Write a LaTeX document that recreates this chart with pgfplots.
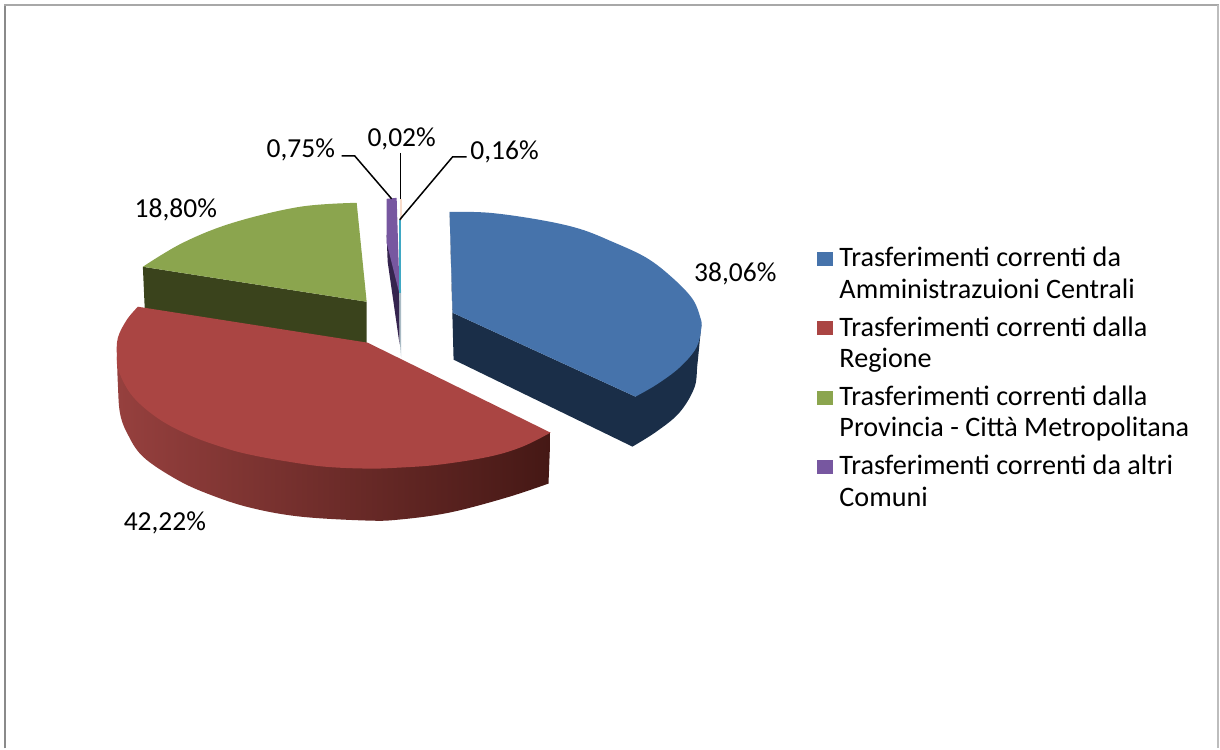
\documentclass[border=0pt]{standalone}
\usepackage{pgfplots}
\pgfplotsset{compat=1.18}
\usepackage{fontspec}
\setmainfont{Carlito}
\definecolor{bluetop}{HTML}{4673AB}
\definecolor{blueside}{HTML}{1A2E48}
\definecolor{redtop}{HTML}{AA4543}
\definecolor{redsideL}{HTML}{96403E}
\definecolor{redsideM}{HTML}{6E2D2B}
\definecolor{redsideR}{HTML}{451815}
\definecolor{greentop}{HTML}{8BA54E}
\definecolor{greenside}{HTML}{3A431C}
\definecolor{purpletop}{HTML}{7757A0}
\definecolor{purpleside}{HTML}{35244E}
\definecolor{tealtop}{HTML}{3FA8C4}
\definecolor{palegrey}{HTML}{A9BBC4}
\definecolor{peach}{HTML}{F8DCCB}
\definecolor{frameA}{HTML}{A8A8A8}
\definecolor{frameB}{HTML}{8A8A8A}
\definecolor{frameC}{HTML}{BDBDBD}
\begin{document}
\begin{tikzpicture}
\begin{axis}[
  width=1220pt,height=749pt,scale only axis,
  xmin=0,xmax=1220,ymin=0,ymax=749,y dir=reverse,
  hide axis,clip=false,
  legend cell align=left,
  legend style={at={(axis cs:818,245)},anchor=north west,draw=none,fill=none,
    font=\fontsize{28.2}{31.5}\selectfont,row sep=0pt,inner sep=0pt,
    nodes={inner sep=0pt,text height=22pt,text depth=47.3pt}},
  legend image code/.code={\path[draw=none,fill=none] (0pt,0pt) rectangle (22pt,14pt);\fill[#1,draw=none] (0pt,13.5pt) rectangle (16pt,27.5pt);},
]
% keeps the page as large as the reference
\addplot[forget plot,draw=none] coordinates {(0,0) (1220,749)};
% frame
\addplot[forget plot,draw=frameB,line width=2.5pt] coordinates {(5,749) (5,5)};
\addplot[forget plot,draw=frameA,line width=2.2pt] coordinates {(4,5) (1220,5)};
\addplot[forget plot,draw=frameC,line width=2pt] coordinates {(1219,5) (1219,749)};
% green side
\addplot[forget plot,fill=greenside,draw=none] coordinates {(143,267) (145,312) (367,346) (367,302)} --cycle;
% blue side
\addplot[forget plot,fill=blueside,draw=none,smooth,tension=0.6] coordinates {(633,447) (657,432) (680,413) (695,388) (698,365) (701,335) (702,325)} -- (axis cs:636,397) -- (axis cs:453,313) -- (axis cs:450,212) -- (axis cs:454,360) --cycle;
% blue top
\addplot[fill=bluetop,draw=none,smooth,tension=0.6] coordinates {(450,212) (490,213) (540,220) (580,229) (613,242) (647,258) (673,278) (693,299) (701,318) (702,328) (697,348) (680,368) (657,385) (636,397)} -- (axis cs:453,313) --cycle;
\addlegendentry{\begin{tabular}[t]{@{}l@{}}Trasferimenti correnti da\\Amministrazuioni Centrali\end{tabular}}
% red side
\addplot[forget plot,draw=none,smooth,tension=0.6,left color=redsideL,middle color=redsideM,right color=redsideR] coordinates {(117,357) (118,385) (120,413) (127,433) (143,457) (177,480) (210,495) (250,508) (300,517) (367,521) (400,520) (450,513) (507,498) (549,484)} -- (axis cs:551,433) --cycle;
% red top
\addplot[fill=redtop,draw=none,smooth,tension=0.6] coordinates {(138,307) (127,320) (118,338) (117,357) (119,372) (133,397) (160,420) (193,437) (227,449) (250,455) (282,461) (324,467) (368,469) (400,468) (440,465) (490,457) (523,447) (551,433)} -- (axis cs:368,343) --cycle;
\addlegendentry{\begin{tabular}[t]{@{}l@{}}Trasferimenti correnti dalla\\Regione\end{tabular}}
% green top
\addplot[fill=greentop,draw=none,smooth,tension=0.6] coordinates {(143,267) (183,243) (233,223) (300,207) (357,203)} -- (axis cs:367,302) --cycle;
\addlegendentry{\begin{tabular}[t]{@{}l@{}}Trasferimenti correnti dalla\\Provincia - Città Metropolitana\end{tabular}}
% thin slices
\addplot[forget plot,fill=purpleside,draw=none] coordinates {(387,235) (388,262) (400,345) (400,290)} --cycle;
\addplot[fill=purpletop,draw=none] coordinates {(387,199) (397,198) (400,295) (387,243)} --cycle;
\addlegendentry{\begin{tabular}[t]{@{}l@{}}Trasferimenti correnti da altri\\Comuni\end{tabular}}
\addplot[forget plot,fill=palegrey,draw=none] coordinates {(399.5,290) (401.5,290) (401.5,358) (400,340)} --cycle;
\addplot[forget plot,fill=tealtop,draw=none] coordinates {(399.5,220) (401.5,220) (401.5,293) (399.5,293)} --cycle;
\addplot[forget plot,fill=peach,draw=none] coordinates {(400,199) (402,199) (402,220) (400,220)} --cycle;
% leaders
\addplot[forget plot,black,line width=1.5pt] coordinates {(342,156) (355,156) (392,199)};
\addplot[forget plot,black,line width=1.5pt] coordinates {(401,153) (401,199)};
\addplot[forget plot,black,line width=1.5pt] coordinates {(467,157) (453,157) (400,220)};
% labels
\node[font=\fontsize{27.5}{30}\selectfont,anchor=center,inner sep=0pt] at (axis cs:301,150) {0,75\%};
\node[font=\fontsize{27.5}{30}\selectfont,anchor=center,inner sep=0pt] at (axis cs:402,139) {0,02\%};
\node[font=\fontsize{27.5}{30}\selectfont,anchor=center,inner sep=0pt] at (axis cs:505,152) {0,16\%};
\node[font=\fontsize{27.5}{30}\selectfont,anchor=center,inner sep=0pt] at (axis cs:176,210) {18,80\%};
\node[font=\fontsize{27.5}{30}\selectfont,anchor=center,inner sep=0pt] at (axis cs:736,274) {38,06\%};
\node[font=\fontsize{27.5}{30}\selectfont,anchor=center,inner sep=0pt] at (axis cs:165,523) {42,22\%};
\end{axis}
\end{tikzpicture}
\end{document}
